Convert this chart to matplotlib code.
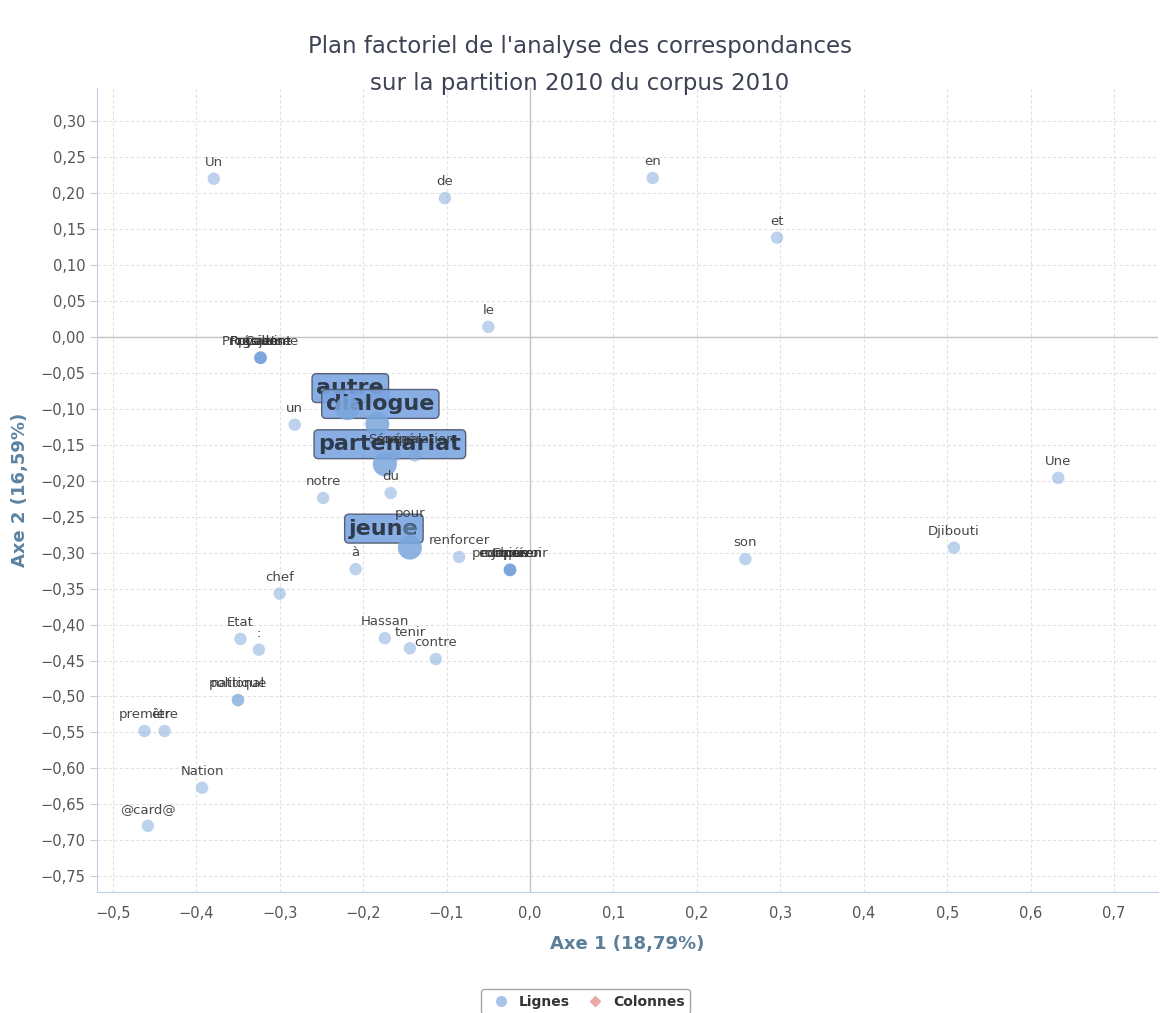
import matplotlib
matplotlib.use('Agg')
import matplotlib.pyplot as plt
from matplotlib.ticker import FuncFormatter, MultipleLocator
from matplotlib.lines import Line2D

# Small words (Lignes)
words = ['Un', 'de', 'en', 'et', 'le',
         'Programme', 'Président', 'Celui', 'projets', 'Royaume',
         'un', 'notre', 'du', 'Sénégal', 'coopération', 'pour', 'renforcer',
         'promouvoir', 'coopérer', 'européen', 'Chine', 'Japon',
         'à', 'chef', 'son', 'Djibouti', 'Une', 'Etat', ':',
         'Hassan', 'tenir', 'contre', 'politique', 'national',
         'premier', 'être', 'Nation', '@card@']
xs = [-0.379, -0.102, 0.147, 0.296, -0.050,
      -0.323, -0.323, -0.323, -0.323, -0.323,
      -0.282, -0.248, -0.167, -0.162, -0.138, -0.144, -0.085,
      -0.024, -0.024, -0.024, -0.024, -0.024,
      -0.209, -0.300, 0.258, 0.508, 0.633, -0.347, -0.325,
      -0.174, -0.144, -0.113, -0.350, -0.350,
      -0.462, -0.438, -0.393, -0.458]
ys = [0.220, 0.193, 0.221, 0.138, 0.014,
      -0.029, -0.029, -0.029, -0.029, -0.029,
      -0.122, -0.224, -0.217, -0.165, -0.165, -0.268, -0.306,
      -0.324, -0.324, -0.324, -0.324, -0.324,
      -0.323, -0.357, -0.309, -0.293, -0.196, -0.420, -0.435,
      -0.419, -0.433, -0.448, -0.505, -0.505,
      -0.548, -0.548, -0.627, -0.680]

# Highlighted words
big_words = ['autre', 'dialogue', 'partenariat', 'jeune']
big_x = [-0.219, -0.183, -0.174, -0.144]
big_y = [-0.099, -0.121, -0.177, -0.293]
big_offsets = {'autre': (3, 20), 'dialogue': (3, 20), 'partenariat': (5, 20), 'jeune': (-26, 19)}

axis1 = 'Axe 1 (18,79%)'
axis2 = 'Axe 2 (16,59%)'
title = "Plan factoriel de l'analyse des correspondances\nsur la partition 2010 du corpus 2010"

fig = plt.figure(figsize=(11.6, 10.13), dpi=100)
ax = fig.add_axes([0.0836, 0.1194, 0.915, 0.7936])

ax.set_xlim(-0.519, 0.753)
ax.set_ylim(-0.772, 0.346)
ax.xaxis.set_major_locator(MultipleLocator(0.1))
ax.yaxis.set_major_locator(MultipleLocator(0.05))
fmt1 = FuncFormatter(lambda v, p: f'{v:.1f}'.replace('.', ',').replace('-', '\u2212'))
fmt2 = FuncFormatter(lambda v, p: f'{v:.2f}'.replace('.', ',').replace('-', '\u2212'))
ax.xaxis.set_major_formatter(fmt1)
ax.yaxis.set_major_formatter(fmt2)
ax.grid(True, ls=(0, (3, 2)), color='#e2e2e2', lw=0.8)
ax.set_axisbelow(True)
ax.axhline(0, color='#c4c4c4', lw=1, zorder=1)
ax.axvline(0, color='#c4c4c4', lw=1, zorder=1)

for s in ['top', 'right']:
    ax.spines[s].set_visible(False)
for s in ['left', 'bottom']:
    ax.spines[s].set_color('#c0d0e0')
ax.tick_params(axis='y', colors='#c0d0e0', labelcolor='#555555', labelsize=10.5, length=5)
ax.tick_params(axis='x', colors='#c0d0e0', labelcolor='#555555', labelsize=10.5, length=0, pad=10)

# big words: boxes first, then their points
for w, x, y in zip(big_words, big_x, big_y):
    ax.annotate(w, (x, y), xytext=big_offsets[w], textcoords='offset pixels',
                ha='center', va='center', fontsize=16, fontweight='bold', color='#2f3a4a', zorder=4,
                bbox=dict(boxstyle='round,pad=0.2', fc='#7ba5e2', ec='#4a5566', lw=1, alpha=0.9))
ax.scatter(big_x, big_y, s=300, color='#7aa6dc', alpha=0.85, edgecolors='none', zorder=5)

ax.scatter(xs, ys, s=80, color='#7aa6dc', alpha=0.5, edgecolors='none', zorder=6)
for w, x, y in zip(words, xs, ys):
    ax.annotate(w, (x, y), xytext=(0, 7), textcoords='offset points',
                ha='center', va='bottom', fontsize=9.5, color='#333333', alpha=0.9, zorder=7)

ax.set_xlabel(axis1, color='#5b7f99', fontsize=13, fontweight='bold', labelpad=10)
ax.set_ylabel(axis2, color='#5b82a0', fontsize=13, fontweight='bold', labelpad=8)

fig.text(0.5, 0.965, title, ha='center', va='top', fontsize=16.5, color='#3d4354',
         linespacing=1.75)

handles = [Line2D([], [], marker='o', ls='', color='#a8c5e8', markersize=7, label='Lignes'),
           Line2D([], [], marker='D', ls='', color='#e8a8a8', markersize=5, label='Colonnes')]
leg = fig.legend(handles=handles, loc='lower center', bbox_to_anchor=(0.505, -0.008), ncol=2,
                 frameon=True, fancybox=True, handletextpad=0.3, columnspacing=0.8,
                 prop={'weight': 'bold', 'size': 10}, borderpad=0.4)
leg.get_frame().set_edgecolor('#909090')
for t in leg.get_texts():
    t.set_color('#333333')

fig.savefig('out.png', dpi=100)
